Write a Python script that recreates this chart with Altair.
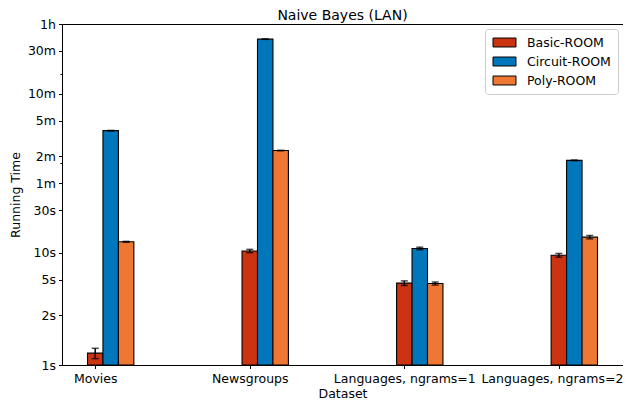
import altair as alt
import pandas as pd

categories = ["Movies", "Newsgroups", "Languages, ngrams=1", "Languages, ngrams=2"]
series = ["Basic-ROOM", "Circuit-ROOM", "Poly-ROOM"]
colors = ["#CC3311", "#0077BB", "#EE7733"]

basic = [0.76, 10.5, 4.6, 9.4]
circuit = [232, 2440, 11.2, 108]
poly = [13.3, 139, 4.55, 15.0]
basic_err = [0.1, 0.45, 0.27, 0.45]
circuit_err = [1.5, 15, 0.38, 1.0]
poly_err = [0.15, 1.0, 0.18, 0.65]

y_ticks = [0.56, 2, 5, 10, 30, 60, 120, 300, 600, 1800, 3600]
y_labels = ["1s", "2s", "5s", "10s", "30s", "1m", "2m", "5m", "10m", "30m", "1h"]
y_minor = [100, 1000]
y_min, y_max = 0.56, 3600

rows = []
for k, (name, vals, errs) in enumerate(zip(series, [basic, circuit, poly], [basic_err, circuit_err, poly_err])):
    for i, cat in enumerate(categories):
        rows.append({"idx": i, "k": k, "series": name, "category": cat,
                     "value": vals[i], "err": errs[i]})
df = pd.DataFrame(rows)

FONT = "DejaVu Sans"

label_map = "{" + ",".join(f"'{v}':'{l}'" for v, l in zip(y_ticks, y_labels)) + "}"
y_label_expr = f"({label_map})[''+datum.value] || ''"
x_label_expr = "[" + ",".join(f"'{c}'" for c in categories) + "][datum.value]"
minor_test = " || ".join(f"datum.value == {m}" for m in y_minor)

yscale = alt.Scale(type="log", domain=[y_min, y_max], nice=False)
xscale = alt.Scale(domain=[-0.215, 3.415], nice=False, zero=False)

base = alt.Chart(df).transform_calculate(
    pos="datum.idx + datum.k * 0.1",
    x0="datum.idx + datum.k * 0.1 - 0.05",
    x1="datum.idx + datum.k * 0.1 + 0.05",
    lo="datum.value - datum.err",
    hi="datum.value + datum.err",
)

bars = base.mark_bar(stroke="black", strokeWidth=1.1).encode(
    x=alt.X("x0:Q", scale=xscale,
            axis=alt.Axis(values=[0, 1, 2, 3], labelExpr=x_label_expr, title="Dataset",
                          tickSize=3.5, labelPadding=4, titlePadding=2,
                          labelOffset={"condition": {"test": "datum.value == 3", "value": -7},
                                       "value": 0})),
    x2="x1:Q",
    y=alt.Y("value:Q", scale=yscale,
            axis=alt.Axis(values=y_ticks + y_minor, labelExpr=y_label_expr, title="Running Time",
                          tickSize={"condition": {"test": minor_test, "value": 2}, "value": 3.5},
                          labelPadding=3, titlePadding=5)),
    y2=alt.datum(y_min),
    color=alt.Color("series:N", scale=alt.Scale(domain=series, range=colors),
                    legend=alt.Legend(title=None, orient="none", legendX=423, legendY=5,
                                      symbolType="M-2,-0.78H2V0.78H-2Z", symbolSize=132,
                                      symbolStrokeColor="black", symbolStrokeWidth=1,
                                      symbolOpacity=1, symbolOffset=6, labelOffset=16,
                                      rowPadding=6,
                                      padding=7, strokeColor="#cccccc", cornerRadius=3,
                                      fillColor="white", labelFontSize=12.5, labelFont=FONT,
                                      labelColor="black")),
)

err_rule = base.mark_rule(color="black", strokeWidth=1.5).encode(
    x=alt.X("pos:Q", scale=xscale),
    y=alt.Y("lo:Q", scale=yscale),
    y2="hi:Q",
)
cap_hi = base.mark_tick(color="black", orient="horizontal", size=7, thickness=1.5).encode(
    x=alt.X("pos:Q", scale=xscale),
    y=alt.Y("hi:Q", scale=yscale),
)
cap_lo = base.mark_tick(color="black", orient="horizontal", size=7, thickness=1.5).encode(
    x=alt.X("pos:Q", scale=xscale),
    y=alt.Y("lo:Q", scale=yscale),
)

chart = alt.layer(bars, err_rule, cap_hi, cap_lo).properties(
    width=561, height=341,
    title=alt.TitleParams("Naive Bayes (LAN)", fontSize=14, font=FONT, fontWeight="normal",
                          anchor="middle", offset=-5, color="black"),
    autosize=alt.AutoSizeParams(type="none"),
    padding={"left": 54, "top": 16, "right": 0, "bottom": 34},
).configure_axis(
    grid=False, domainColor="black", tickColor="black", domainWidth=1, tickWidth=1,
    labelFont=FONT, titleFont=FONT, labelFontSize=12.5, titleFontSize=12.5,
    titleFontWeight="normal", labelColor="black", titleColor="black",
).configure_view(stroke="black", strokeWidth=1)

chart.save("out.html", embed_options={"renderer": "svg", "actions": False})
